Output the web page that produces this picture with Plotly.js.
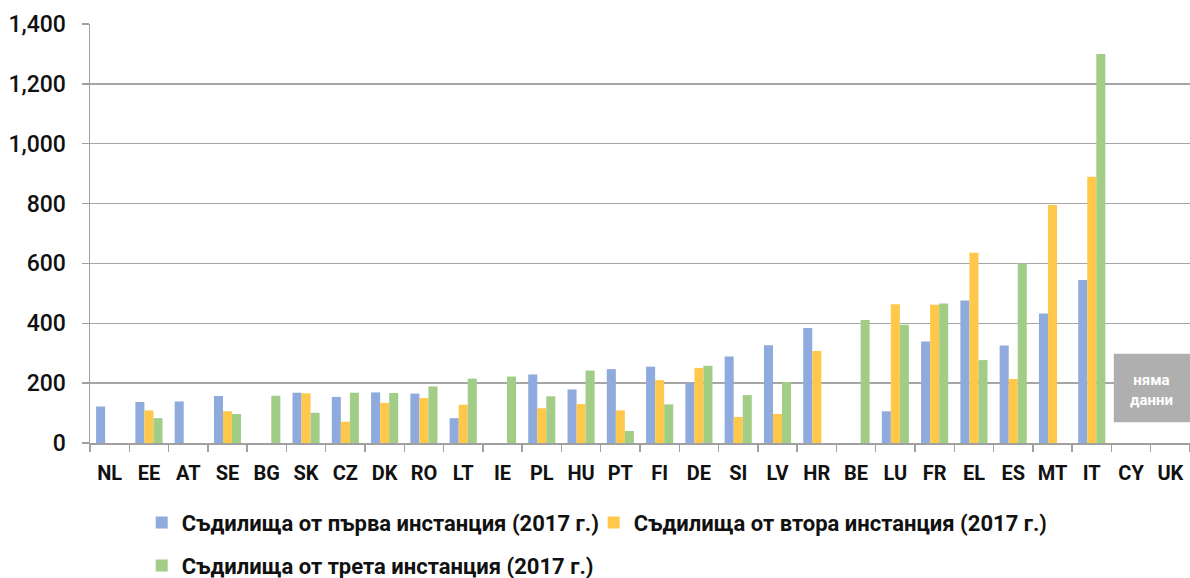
<!DOCTYPE html>
<html>
<head>
<meta charset="utf-8">
<script src="https://cdn.plot.ly/plotly-3.0.1.min.js"></script>
<style>html,body{margin:0;padding:0;background:#fff;}#chart{width:1190px;height:578px;}</style>
</head>
<body>
<div id="chart"></div>
<script>
const countries = ["NL","EE","AT","SE","BG","SK","CZ","DK","RO","LT","IE","PL","HU","PT","FI","DE","SI","LV","HR","BE","LU","FR","EL","ES","MT","IT","CY","UK"];
const firstInstance  = [122,137,139,157,null,168,154,169,165,83,null,229,179,247,255,201,289,327,384,null,106,339,476,326,433,545,null,null];
const secondInstance = [null,109,null,106,null,166,71,134,150,128,null,116,130,109,210,251,87,97,307,null,464,462,636,214,795,890,null,null];
const thirdInstance  = [null,83,null,97,158,101,168,167,189,215,222,156,242,40,129,258,160,204,null,411,395,466,277,600,null,1300,null,null];
const seriesNames = ["Съдилища от първа инстанция (2017 г.)","Съдилища от втора инстанция (2017 г.)","Съдилища от трета инстанция (2017 г.)"];
const yTicks = [0,200,400,600,800,1000,1200,1400];
const noDataText = "няма<br>данни";

const FONT = "Roboto, DejaVu Sans, sans-serif";
const traces = [
  {type:"bar", x:countries, y:firstInstance, name:seriesNames[0], marker:{color:"#8FAADC"}, legend:"legend"},
  {type:"bar", x:countries, y:secondInstance, name:seriesNames[1], marker:{color:"#FFC84B"}, legend:"legend"},
  {type:"bar", x:countries, y:thirdInstance, name:seriesNames[2], marker:{color:"#A1CD86"}, legend:"legend2"}
];
const legFont = {family:FONT, size:22, color:"#111", weight:"bold"};
const layout = {
  width:1190, height:578,
  margin:{l:90, r:0, t:24, b:135, autoexpand:false},
  paper_bgcolor:"#fff", plot_bgcolor:"#fff",
  barmode:"group", bargap:0.31, bargroupgap:0,
  font:{family:FONT, color:"#000"},
  xaxis:{type:"category", tickson:"boundaries", ticks:"outside", ticklen:7, tickcolor:"#A0A0A0", tickwidth:1.5,
         showline:true, linecolor:"#A0A0A0", linewidth:1.5, showgrid:false, ticklabelstandoff:11,
         tickfont:{family:FONT, size:20, color:"#111", weight:"bold"}, range:[-0.5,27.5], fixedrange:true},
  yaxis:{range:[0,1400], tickvals:yTicks, tickformat:",", ticks:"outside", ticklen:7, tickcolor:"#A0A0A0", tickwidth:1.5,
         showline:true, linecolor:"#A0A0A0", linewidth:1.5, gridcolor:"#A6A6A6", gridwidth:1.5, zeroline:false,
         ticklabelstandoff:11,
         tickfont:{family:FONT, size:23, color:"#111", weight:500}, fixedrange:true},
  legend:{orientation:"h", x:0.047, xanchor:"left", y:-0.14, yanchor:"top", font:legFont,
          itemwidth:30, entrywidth:407, bgcolor:"rgba(0,0,0,0)"},
  legend2:{orientation:"h", x:0.047, xanchor:"left", y:-0.243, yanchor:"top", font:legFont,
          itemwidth:30, bgcolor:"rgba(0,0,0,0)"},
  shapes:[{type:"rect", xref:"x", yref:"y", x0:25.56, x1:27.5, y0:69, y1:298, fillcolor:"#AFAFAF", line:{width:0}, layer:"above"}],
  annotations:[{xref:"x", yref:"y", x:26.53, y:178, text:noDataText, showarrow:false,
                font:{family:FONT, size:15, color:"#fff", weight:"bold"}, align:"center"}],
  showlegend:true
};
Plotly.newPlot("chart", traces, layout, {displayModeBar:false, staticPlot:true});
</script>
</body>
</html>
